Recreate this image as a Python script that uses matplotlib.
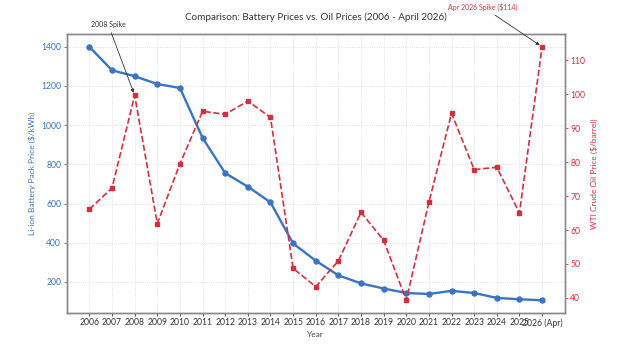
import matplotlib
matplotlib.use("Agg")
import matplotlib.pyplot as plt

plt.rcParams['font.family'] = ['Lato', 'DejaVu Sans']

years = list(range(2006, 2027))
year_labels = [str(y) for y in range(2006, 2026)] + ['2026 (Apr)']

battery_price = [1400, 1280, 1250, 1210, 1190, 935, 755, 686, 606, 396,
                 308, 233, 192, 166, 143, 138, 154, 143, 118, 111, 106]
oil_price = [66.1, 72.4, 99.7, 61.9, 79.5, 95.0, 94.1, 98.0, 93.2, 48.7,
             43.3, 50.9, 65.2, 57.0, 39.3, 68.2, 94.4, 77.8, 78.5, 65.0, 114.0]

blue = '#3a74c2'
red = '#d3303f'

fig = plt.figure(figsize=(6.24, 3.52), dpi=100)
ax1 = fig.add_axes([0.107, 0.111, 0.798, 0.792])
ax2 = ax1.twinx()

ax1.plot(years, battery_price, color=blue, lw=1.7, marker='o', ms=3.6, zorder=3)
ax2.plot(years, oil_price, color=red, lw=1.2, ls='--', marker='s', ms=3.3, zorder=3)

ax1.set_xticks(years)
ax1.set_xticklabels(year_labels)
ax1.grid(True, ls=':', lw=0.6, color='#d8d8d8')

ax1.set_xlabel('Year', fontsize=6, color='#444444', labelpad=2)
ax1.set_ylabel('Li-ion Battery Pack Price ($/kWh)', fontsize=6, color=blue, labelpad=4)
ax2.set_ylabel('WTI Crude Oil Price ($/barrel)', fontsize=6, color=red, labelpad=4)

ax1.tick_params(axis='x', labelsize=6.2, colors='#333333', length=2, width=0.6, pad=2)
ax1.tick_params(axis='y', labelsize=6.2, colors=blue, length=2, width=0.6, pad=2)
ax2.tick_params(axis='y', labelsize=6.2, colors=red, length=2, width=0.6, pad=2)

for ax in (ax1, ax2):
    for s in ax.spines.values():
        s.set_color('#888888')
        s.set_linewidth(1.0)

ax1.set_title('Comparison: Battery Prices vs. Oil Prices (2006 - April 2026)',
              fontsize=7.1, color='#333333', pad=10)

ax2.annotate('2008 Spike', xy=(2008, oil_price[2]), xytext=(108, 328),
             textcoords='figure pixels', fontsize=5, color='#333333',
             ha='center', va='center',
             arrowprops=dict(arrowstyle='-|>', color='#333333', lw=0.6,
                             mutation_scale=5, shrinkA=2, shrinkB=2))
ax2.annotate('Apr 2026 Spike ($114)', xy=(2026, oil_price[-1]), xytext=(483, 345),
             textcoords='figure pixels', fontsize=5, color=red,
             ha='center', va='center',
             arrowprops=dict(arrowstyle='-|>', color='#333333', lw=0.6,
                             mutation_scale=5, shrinkA=2, shrinkB=2))

fig.savefig('out.png', dpi=100)
